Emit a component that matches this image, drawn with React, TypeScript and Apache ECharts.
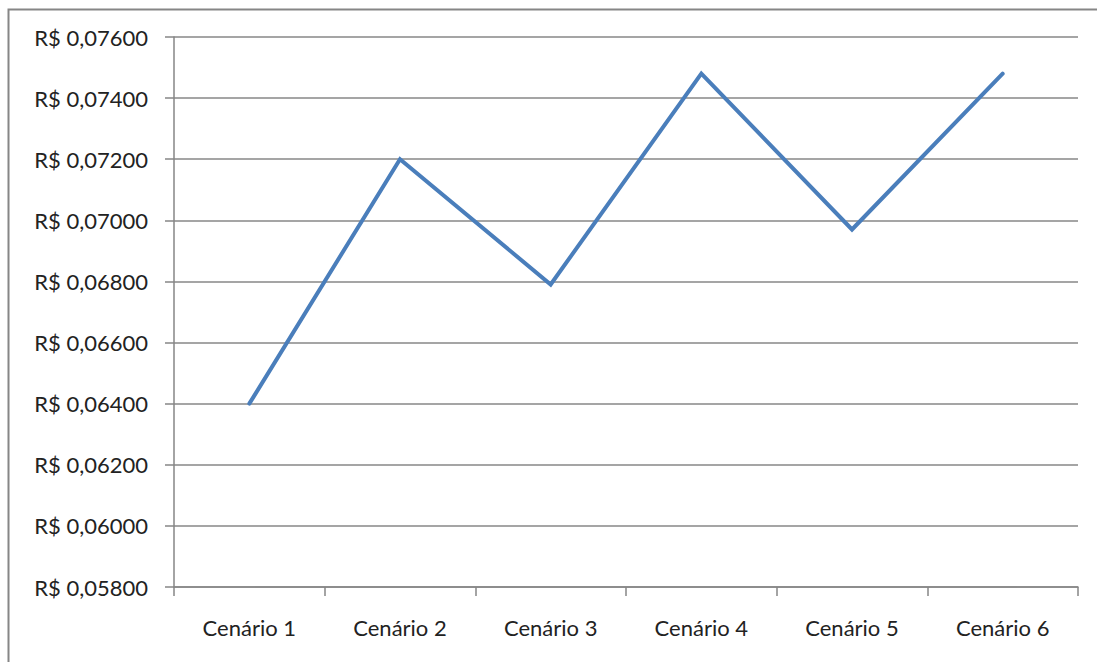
import React, { useEffect, useRef } from "react";
import * as echarts from "echarts";

const categories = ["Cenário 1", "Cenário 2", "Cenário 3", "Cenário 4", "Cenário 5", "Cenário 6"];
const values = [0.064, 0.072, 0.0679, 0.0748, 0.0697, 0.0748];
const yMin = 0.058;
const yMax = 0.076;
const yStep = 0.002;

export default function App() {
  const ref = useRef<HTMLDivElement>(null);
  useEffect(() => {
    if (!ref.current) return;
    const chart = echarts.init(ref.current, null, { renderer: "svg" });
    const font = "Lato, 'Open Sans', sans-serif";
    chart.setOption({
      animation: false,
      backgroundColor: "#ffffff",
      graphic: [
        {
          type: "rect",
          shape: { x: 8.5, y: 9.5, width: 1200, height: 800 },
          style: { fill: "none", stroke: "#868686", lineWidth: 2 },
          silent: true,
        },
      ],
      grid: { left: 174, right: 19, top: 37, bottom: 75, containLabel: false },
      xAxis: {
        type: "category",
        data: categories,
        boundaryGap: true,
        axisLine: { lineStyle: { color: "#868686", width: 1.5 } },
        axisTick: { show: true, length: 9, lineStyle: { color: "#868686", width: 1.5 } },
        axisLabel: { color: "#222222", fontSize: 22, fontFamily: font, margin: 29 },
        splitLine: { show: false },
      },
      yAxis: {
        type: "value",
        min: yMin,
        max: yMax,
        interval: yStep,
        axisLine: { show: true, lineStyle: { color: "#868686", width: 1.5 } },
        axisTick: { show: true, length: 9, lineStyle: { color: "#868686", width: 1.5 } },
        axisLabel: {
          color: "#222222",
          fontSize: 22,
          fontFamily: font,
          margin: 26,
          formatter: (v: number) => "R$ " + v.toFixed(5).replace(".", ","),
        },
        splitLine: { show: true, lineStyle: { color: "#878787", width: 1.5 } },
      },
      series: [
        {
          type: "line",
          data: values,
          symbol: "none",
          lineStyle: { color: "#4a7ebb", width: 4, cap: "round", join: "miter" },
          itemStyle: { color: "#4a7ebb" },
        },
      ],
    });
    return () => chart.dispose();
  }, []);
  return (
    <div
      ref={ref}
      style={{ position: "absolute", left: 0, top: 0, width: 1097, height: 662 }}
    />
  );
}
